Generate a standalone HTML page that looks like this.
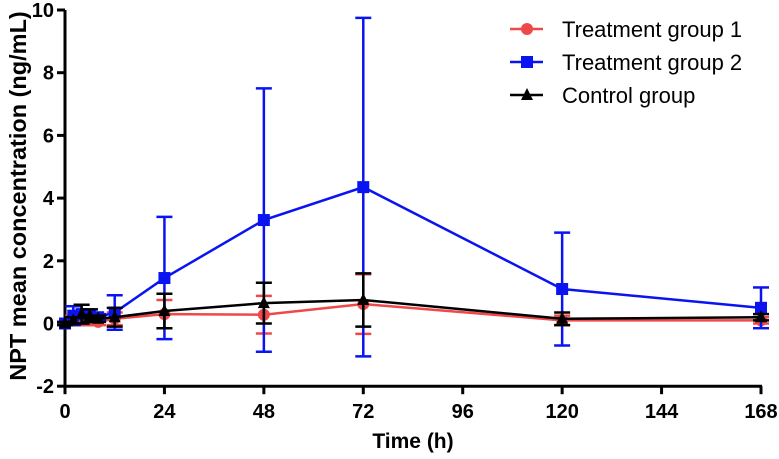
<!DOCTYPE html>
<html><head><meta charset="utf-8"><style>
body{margin:0;background:#fff;}
svg{display:block;font-family:"Liberation Sans",Arial,sans-serif;}
</style></head><body>
<svg id="chart" width="779" height="459"></svg>
<script>
const times=[0,2,4,6,8,12,24,48,72,120,168];
const t1Mean=[0,0.1,0.15,0.1,0.05,0.15,0.3,0.28,0.62,0.1,0.1];
const t1Sd=[0.05,0.15,0.2,0.15,0.1,0.2,0.45,0.6,0.95,0.15,0.1];
const t2Mean=[0,0.25,0.3,0.25,0.2,0.35,1.45,3.3,4.35,1.1,0.5];
const t2Sd=[0.05,0.3,0.3,0.2,0.1,0.55,1.95,4.2,5.4,1.8,0.65];
const cMean=[0,0.1,0.3,0.25,0.15,0.2,0.4,0.65,0.75,0.15,0.2];
const cSd=[0.05,0.1,0.3,0.2,0.1,0.3,0.55,0.65,0.85,0.2,0.1];
const xTicks=[0,24,48,72,96,120,144,168];
const yTicks=[-2,0,2,4,6,8,10];

const NS="http://www.w3.org/2000/svg";
const svg=document.getElementById('chart');
const X=v=>65+v*(761-65)/168;
const Y=v=>323.5-v*31.35;
function mk(tag,attrs,parent){const e=document.createElementNS(NS,tag);for(const k in attrs)e.setAttribute(k,attrs[k]);(parent||svg).appendChild(e);return e;}

const ax=mk('g',{});


mk('line',{x1:65,y1:Y(10),x2:65,y2:Y(-2),stroke:'#000','stroke-width':3},ax);
mk('line',{x1:65,y1:Y(-2),x2:X(168)+1,y2:Y(-2),stroke:'#000','stroke-width':3},ax);
yTicks.forEach(v=>{
  mk('line',{x1:57,y1:Y(v),x2:65,y2:Y(v),stroke:'#000','stroke-width':3},ax);
  const t=mk('text',{x:54,y:Y(v)+7,'text-anchor':'end','font-size':20,'font-weight':'bold'},ax);
  t.textContent=v;
  
  
});
xTicks.forEach(v=>{
  mk('line',{x1:X(v),y1:Y(-2),x2:X(v),y2:Y(-2)+8,stroke:'#000','stroke-width':3},ax);
  const t=mk('text',{x:X(v),y:418,'text-anchor':'middle','font-size':20,'font-weight':'bold'},ax);
  t.textContent=v;
  
  
});
const xt=mk('text',{x:413,y:448,'text-anchor':'middle','font-size':21,'font-weight':'bold'});
xt.textContent='Time (h)';


const yt=mk('text',{x:0,y:0,'text-anchor':'middle','font-size':23.5,'font-weight':'bold',transform:'translate(26,196) rotate(-90)'});
yt.textContent='NPT mean concentration (ng/mL)';



function marker(g,type,cx,cy,color,size){
  if(type==='circle')mk('circle',{cx:cx,cy:cy,r:size,fill:color},g);
  else if(type==='square')mk('rect',{x:cx-size,y:cy-size,width:2*size,height:2*size,fill:color},g);
  else mk('polygon',{points:`${cx},${cy-size-1} ${cx-size},${cy+size-1} ${cx+size},${cy+size-1}`,fill:color},g);
}
function series(name,mean,sd,color,type){
  const g=mk('g',{});
  
  
  times.forEach((t,i)=>{
    const x=X(t),y1=Y(mean[i]+sd[i]),y2=Y(mean[i]-sd[i]);
    mk('line',{x1:x,y1:y1,x2:x,y2:y2,stroke:color,'stroke-width':2.5},g);
    mk('line',{x1:x-8,y1:y1,x2:x+8,y2:y1,stroke:color,'stroke-width':2.5},g);
    mk('line',{x1:x-8,y1:y2,x2:x+8,y2:y2,stroke:color,'stroke-width':2.5},g);
  });
  mk('polyline',{points:times.map((t,i)=>X(t)+','+Y(mean[i])).join(' '),fill:'none',stroke:color,'stroke-width':2.5},g);
  times.forEach((t,i)=>{
    const p=mk('g',{},g);
    
    
    marker(p,type,X(t),Y(mean[i]),color,6);
  });
}
series('series-treatment-1',t1Mean,t1Sd,'#f04848','circle');
series('series-treatment-2',t2Mean,t2Sd,'#0a14f0','square');
series('series-control',cMean,cSd,'#000','triangle');

const leg=[['Treatment group 1','#f04848','circle'],['Treatment group 2','#0a14f0','square'],['Control group','#000','triangle']];
leg.forEach((l,i)=>{
  const g=mk('g',{});
  
  
  const y=29+i*33;
  mk('line',{x1:510,y1:y,x2:543,y2:y,stroke:l[1],'stroke-width':2.5},g);
  marker(g,l[2],527,y,l[1],6);
  const t=mk('text',{x:562,y:y+8,'font-size':22},g);
  t.textContent=l[0];
});
</script>
</body></html>
